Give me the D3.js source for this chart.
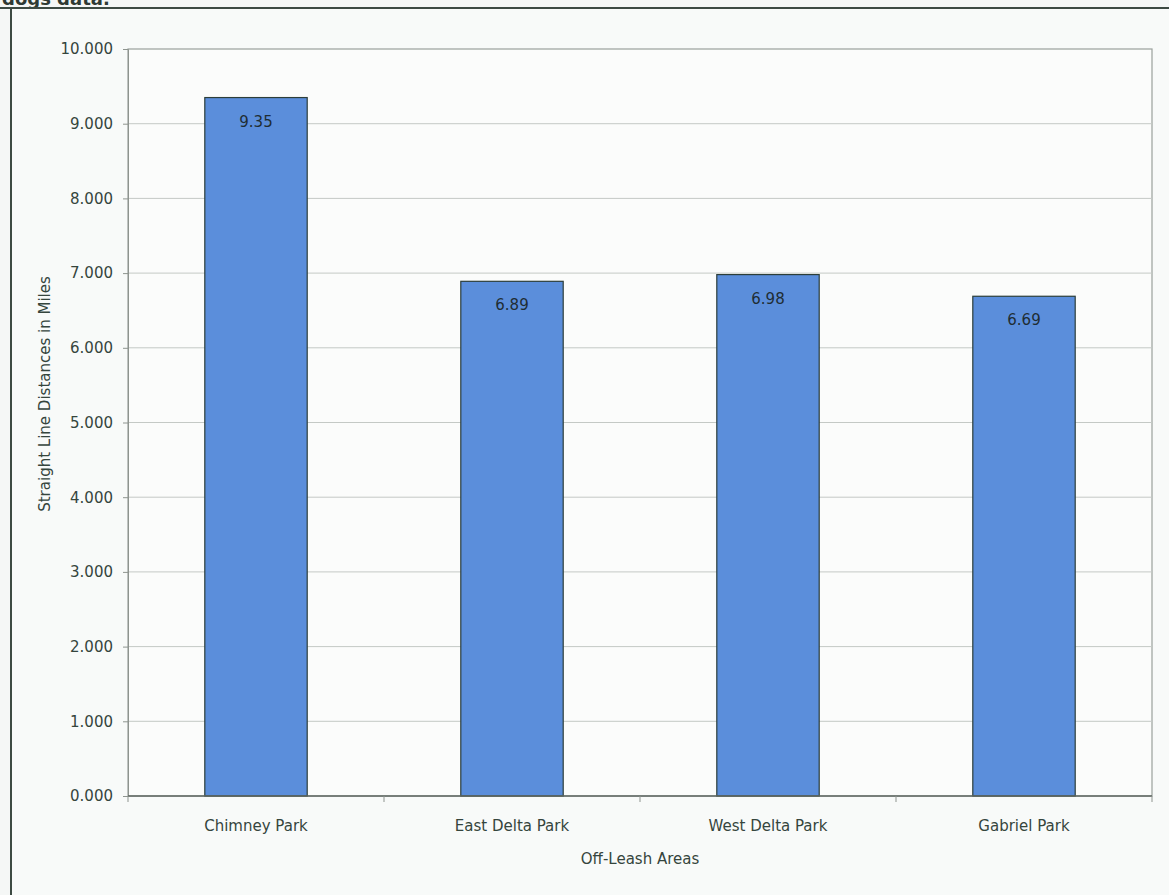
<!DOCTYPE html>
<html>
<head>
<meta charset="utf-8">
<script src="https://cdn.jsdelivr.net/npm/d3@7/dist/d3.min.js"></script>
<style>
  html, body { margin: 0; padding: 0; background: #f5f7f6; }
  svg { display: block; }
  text { font-family: "DejaVu Sans", Verdana, sans-serif; fill: #35453d; }
</style>
</head>
<body>
<svg id="chart" width="1169" height="895"></svg>
<script>
// Off-leash areas and their straight line distances (miles)
const areas = ["Chimney Park", "East Delta Park", "West Delta Park", "Gabriel Park"];
const distances = [9.35, 6.89, 6.98, 6.69];
const yTicks = [0, 1, 2, 3, 4, 5, 6, 7, 8, 9, 10];

const svg = d3.select("#chart");
const W = 1169, H = 895;
const plot = { left: 128, top: 49, right: 1152, bottom: 796 };
const FS = 15;

// outer frame with the heading line sitting right above it
svg.append("text")
  .attr("x", 2).attr("y", 5)
  .attr("font-size", 18).attr("font-weight", "bold")
  .style("fill", "#2f3a34")
  .text("dogs data.");
svg.append("line").attr("x1", 0).attr("x2", W).attr("y1", 8).attr("y2", 8)
  .attr("stroke", "#3d4a43").attr("stroke-width", 2);
svg.append("line").attr("x1", 11).attr("x2", 11).attr("y1", 8).attr("y2", H)
  .attr("stroke", "#3d4a43").attr("stroke-width", 2);
svg.append("rect").attr("x", 12).attr("y", 9).attr("width", W - 12).attr("height", H - 9)
  .attr("fill", "#f8faf9");

const x = d3.scaleBand().domain(areas).range([plot.left, plot.right]).paddingInner(0.6).paddingOuter(0.3);
const y = d3.scaleLinear().domain([0, 10]).range([plot.bottom, plot.top]);

// plot area
svg.append("rect")
  .attr("x", plot.left).attr("y", plot.top)
  .attr("width", plot.right - plot.left).attr("height", plot.bottom - plot.top)
  .attr("fill", "#fbfcfb").attr("stroke", "#9aa09c").attr("stroke-width", 1.2);

// horizontal gridlines
svg.append("g").selectAll("line").data(yTicks.filter(d => d > 0 && d < 10)).join("line")
  .attr("x1", plot.left).attr("x2", plot.right)
  .attr("y1", d => y(d)).attr("y2", d => y(d))
  .attr("stroke", "#c4c9c5").attr("stroke-width", 1);

// y axis
const yAxis = d3.axisLeft(y).tickValues(yTicks).tickFormat(d3.format(".3f")).tickSize(5).tickPadding(10);
const gy = svg.append("g").attr("transform", `translate(${plot.left},0)`).call(yAxis);
gy.attr("font-size", FS).attr("font-family", "DejaVu Sans, sans-serif");
gy.select(".domain").attr("stroke", "#8e948f");
gy.selectAll(".tick line").attr("stroke", "#8e948f");
gy.selectAll(".tick text").style("fill", "#35453d");

// bars
svg.append("g").selectAll("rect").data(distances).join("rect")
  .attr("x", (d, i) => x(areas[i]))
  .attr("y", d => y(d))
  .attr("width", x.bandwidth())
  .attr("height", d => y(0) - y(d))
  .attr("fill", "#5b8edb")
  .attr("stroke", "#2c3e3a").attr("stroke-width", 1.2);

// value labels inside bar tops
svg.append("g").selectAll("text").data(distances).join("text")
  .attr("x", (d, i) => x(areas[i]) + x.bandwidth() / 2)
  .attr("y", d => y(d) + 29)
  .attr("text-anchor", "middle")
  .attr("font-size", FS)
  .style("fill", "#1f2d33")
  .text(d => d3.format(".2f")(d));

// x axis with boundary ticks between categories
const gx = svg.append("g").attr("transform", `translate(0,${plot.bottom})`);
gx.append("line").attr("x1", plot.left).attr("x2", plot.right)
  .attr("stroke", "#5f6762").attr("stroke-width", 1.5);
const bounds = d3.range(areas.length + 1).map(i => plot.left + i * (plot.right - plot.left) / areas.length);
gx.selectAll("line.b").data(bounds).join("line").attr("class", "b")
  .attr("x1", d => d).attr("x2", d => d).attr("y1", 0).attr("y2", 6)
  .attr("stroke", "#8e948f");
gx.selectAll("text").data(areas).join("text")
  .attr("x", d => x(d) + x.bandwidth() / 2)
  .attr("y", 35)
  .attr("text-anchor", "middle")
  .attr("font-size", FS)
  .text(d => d);

// axis titles
svg.append("text")
  .attr("x", (plot.left + plot.right) / 2).attr("y", 864)
  .attr("text-anchor", "middle").attr("font-size", FS)
  .text("Off-Leash Areas");
svg.append("text")
  .attr("transform", "translate(50,394) rotate(-90)")
  .attr("text-anchor", "middle").attr("font-size", FS)
  .text("Straight Line Distances in Miles");
</script>
</body>
</html>
